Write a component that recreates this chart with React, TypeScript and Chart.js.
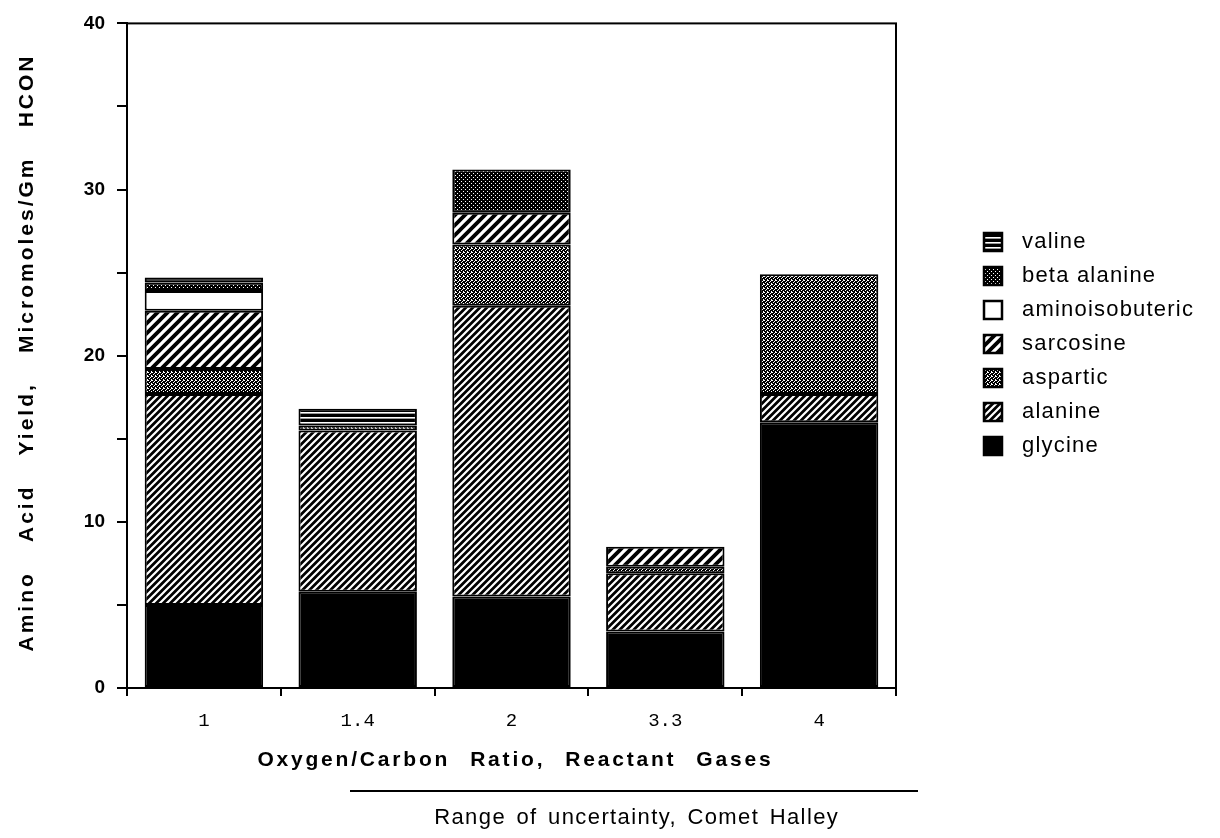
import React, { useEffect, useRef } from "react";
import { Chart, registerables } from "chart.js";
Chart.register(...registerables);

// ---- data ----
const categories = ["1", "1.4", "2", "3.3", "4"];
const glycine = [5.0, 5.8, 5.5, 3.4, 16.0];
const alanine = [12.7, 9.7, 17.5, 3.5, 1.7];
const aspartic = [1.5, 0.3, 3.7, 0.4, 7.2];
const sarcosine = [3.5, 0, 1.9, 1.2, 0];
const aminoisobuteric = [1.2, 0, 0, 0, 0];
const betaAlanine = [0.5, 0, 2.6, 0, 0];
const valine = [0.3, 1.0, 0, 0, 0];
const seriesNames = ["glycine", "alanine", "aspartic", "sarcosine", "aminoisobuteric", "beta alanine", "valine"];
const seriesValues = [glycine, alanine, aspartic, sarcosine, aminoisobuteric, betaAlanine, valine];
const yMin = 0;
const yMax = 40;
const yStep = 5;
const yLabelEvery = 10;
const xTitle = "Oxygen/Carbon Ratio, Reactant Gases";
const yTitle = "Amino Acid Yield, Micromoles/Gm HCON";
const rangeText = "Range of uncertainty, Comet Halley";

// ---- patterns ----
function tile(w: number, h: number, draw: (g: CanvasRenderingContext2D) => void) {
  const c = document.createElement("canvas");
  c.width = w;
  c.height = h;
  const g = c.getContext("2d")!;
  draw(g);
  return c;
}
function diag(g: CanvasRenderingContext2D, s: number) {
  g.beginPath();
  g.moveTo(0, s); g.lineTo(s, 0);
  g.moveTo(-s / 2, s / 2); g.lineTo(s / 2, -s / 2);
  g.moveTo(s / 2, s * 1.5); g.lineTo(s * 1.5, s / 2);
  g.stroke();
}
function makeFills(ctx: CanvasRenderingContext2D): any[] {
  const pat = (c: HTMLCanvasElement) => ctx.createPattern(c, "repeat");
  const alan = tile(7, 7, (g) => {
    g.fillStyle = "#000"; g.fillRect(0, 0, 7, 7);
    g.strokeStyle = "#fff"; g.lineWidth = 2.2; diag(g, 7);
  });
  const sarc = tile(10, 10, (g) => {
    g.fillStyle = "#fff"; g.fillRect(0, 0, 10, 10);
    g.strokeStyle = "#000"; g.lineWidth = 3.8; diag(g, 10);
  });
  const asp = tile(4, 4, (g) => {
    g.fillStyle = "#000"; g.fillRect(0, 0, 4, 4);
    g.fillStyle = "#fff";
    const px = [[0, 0], [2, 1], [1, 2], [3, 3], [3, 0]];
    px.forEach(([x, y]) => g.fillRect(x, y, 1, 1));
  });
  const beta = tile(4, 4, (g) => {
    g.fillStyle = "#000"; g.fillRect(0, 0, 4, 4);
    g.fillStyle = "#fff"; g.fillRect(1, 1, 1, 1); g.fillRect(3, 3, 1, 1);
  });
  const val = tile(6, 5, (g) => {
    g.fillStyle = "#000"; g.fillRect(0, 0, 6, 5);
    g.fillStyle = "#fff"; g.fillRect(0, 2, 6, 1.6);
  });
  return ["#000", pat(alan), pat(asp), pat(sarc), "#fff", pat(beta), pat(val)];
}

// draw centred text with given letter spacing, stretching word gaps to reach target width
function titleText(ctx: CanvasRenderingContext2D, text: string, x: number, y: number, ls: number, target: number) {
  const c: any = ctx;
  c.letterSpacing = ls + "px";
  c.wordSpacing = "0px";
  const natural = ctx.measureText(text).width;
  const spaces = (text.match(/ /g) || []).length;
  const ws = spaces > 0 ? Math.max(0, (target - natural) / spaces) : 0;
  c.wordSpacing = ws.toFixed(2) + "px";
  ctx.fillText(text, x + ls / 2, y);
  c.letterSpacing = "0px";
  c.wordSpacing = "0px";
}

const decorPlugin = {
  id: "decor",
  afterDraw(chart: any) {
    const { ctx, chartArea } = chart;
    ctx.save();
    // plot frame
    ctx.strokeStyle = "#000";
    ctx.lineWidth = 2;
    ctx.strokeRect(chartArea.left, chartArea.top, chartArea.right - chartArea.left, chartArea.bottom - chartArea.top);

    ctx.fillStyle = "#000";
    ctx.textAlign = "center";
    ctx.textBaseline = "middle";
    // x title
    ctx.font = "bold 21px 'Liberation Sans'";
    titleText(ctx, xTitle, 514, 760, 2.8, 516);
    // y title
    ctx.save();
    ctx.translate(27, 354);
    ctx.rotate(-Math.PI / 2);
    ctx.font = "bold 21px 'Liberation Sans'";
    titleText(ctx, yTitle, 0, 0, 3, 598);
    ctx.restore();
    // range line and text
    ctx.beginPath();
    ctx.lineWidth = 2;
    ctx.moveTo(350, 791);
    ctx.lineTo(918, 791);
    ctx.stroke();
    ctx.font = "22px 'Liberation Sans'";
    titleText(ctx, rangeText, 636, 818, 1.4, 405);

    // legend
    const ds = chart.data.datasets;
    const box = 18;
    const lx = 984;
    const y0 = 242;
    const step = 34;
    ctx.textAlign = "left";
    ctx.font = "22px 'Liberation Sans'";
    (ctx as any).letterSpacing = "1.2px";
    for (let i = ds.length - 1, k = 0; i >= 0; i--, k++) {
      const cy = y0 + k * step;
      ctx.fillStyle = ds[i].backgroundColor;
      ctx.fillRect(lx, cy - box / 2, box, box);
      ctx.strokeStyle = "#000";
      ctx.lineWidth = 2.5;
      ctx.strokeRect(lx, cy - box / 2, box, box);
      ctx.fillStyle = "#000";
      ctx.fillText(ds[i].label, lx + 38, cy);
    }
    (ctx as any).letterSpacing = "0px";
    ctx.restore();
  },
};

export default function App() {
  const ref = useRef<HTMLCanvasElement>(null);
  useEffect(() => {
    const canvas = ref.current!;
    const ctx = canvas.getContext("2d")!;
    const fills = makeFills(ctx);
    const chart = new Chart(canvas, {
      type: "bar",
      data: {
        labels: categories,
        datasets: seriesNames.map((name, i) => ({
          label: name,
          data: seriesValues[i],
          backgroundColor: fills[i],
          borderColor: "#000",
          borderWidth: 2,
          borderSkipped: false,
          barPercentage: 0.77,
          categoryPercentage: 1.0,
        })),
      },
      options: {
        responsive: false,
        animation: false,
        devicePixelRatio: 1,
        layout: { padding: { left: 0, right: 324, top: 19, bottom: 0 } },
        plugins: { legend: { display: false }, tooltip: { enabled: false }, title: { display: false } },
        scales: {
          x: {
            stacked: true,
            grid: { display: true, drawOnChartArea: false, drawTicks: true, tickLength: 8, color: "#000", lineWidth: 2, offset: true },
            border: { display: true, color: "#000", width: 2 },
            ticks: { color: "#000", padding: 14, font: { family: "'Liberation Mono'", size: 19 } },
            afterFit: (s: any) => { s.height = 150; },
          },
          y: {
            stacked: true,
            min: yMin,
            max: yMax,
            grid: { display: true, drawOnChartArea: false, drawTicks: true, tickLength: 10, color: "#000", lineWidth: 2 },
            border: { display: true, color: "#000", width: 2 },
            ticks: {
              stepSize: yStep,
              autoSkip: false,
              color: "#000",
              padding: 12,
              font: { family: "'Liberation Sans'", size: 19, weight: "bold" },
              callback: (v: any) => (Number(v) % yLabelEvery === 0 ? String(v) : ""),
            },
            afterFit: (s: any) => { s.width = 127; },
          },
        },
      },
      plugins: [decorPlugin],
    } as any);
    return () => chart.destroy();
  }, []);
  return (
    <div style={{ position: "absolute", left: 0, top: 0, width: 1220, height: 838, background: "#fff" }}>
      <canvas ref={ref} width={1220} height={838} style={{ display: "block" }} />
    </div>
  );
}
